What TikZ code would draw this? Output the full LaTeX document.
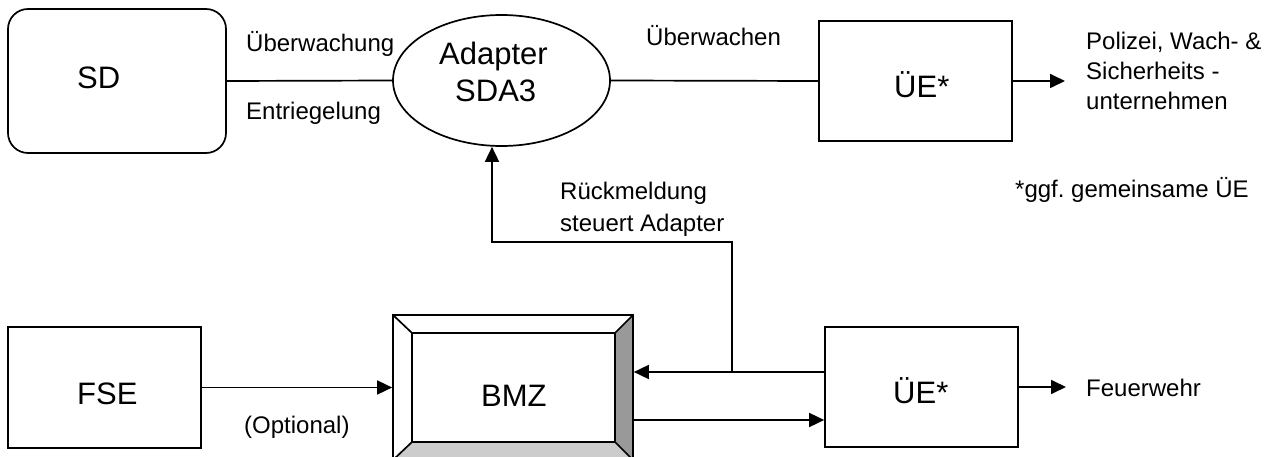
\documentclass[tikz,border=0pt]{standalone}
\usepackage{fontspec}
\setmainfont{Liberation Sans}
\usetikzlibrary{arrows.meta,shapes.geometric}
\frenchspacing
\tikzset{
  ln/.style={line width=1.7pt},
  arr/.style={ln,-{Triangle[length=15pt,width=14pt]}},
  boxn/.style={draw,ln,inner sep=0pt},
  big/.style={inner sep=0pt,anchor=base west,font=\fontsize{31}{36}\selectfont},
  sml/.style={inner sep=0pt,anchor=base west,font=\fontsize{24}{30}\selectfont},
}
\begin{document}
\begin{tikzpicture}[x=1pt,y=-1pt]
\useasboundingbox (0,0) rectangle (1270,457);
\clip (0,0) rectangle (1270,457);
% shapes
\node[boxn,rounded corners=20pt,minimum width=218pt,minimum height=144pt] (sd) at (117,81) {};
\node[boxn,ellipse,minimum width=217pt,minimum height=131pt] (ad) at (501.5,80.5) {};
\node[boxn,minimum width=193pt,minimum height=120pt] (ue1) at (915.5,81) {};
\node[boxn,minimum width=193pt,minimum height=121pt] (fse) at (104.5,387.5) {};
\node[boxn,minimum width=193pt,minimum height=120pt] (ue2) at (921.5,387) {};
% BMZ bevel box
\fill[black!20] (393,460) -- (412,442) -- (615,442) -- (633,460) -- cycle;
\fill[black!40] (633,315) -- (615,333) -- (615,442) -- (633,460) -- cycle;
\node[boxn,minimum width=240pt,minimum height=145pt] (bmz) at (513,387.5) {};
\draw[ln] (412,333) rectangle (615,442);
\draw[ln] (393,315) -- (412,333) (633,315) -- (615,333) (393,460) -- (412,442) (633,460) -- (615,442);
% texts
\node[big] (tsd) at (77,89) {SD};
\node[big] (tad1) at (439,65) {Adapter};
\node[big] (tad2) at (455,102) {SDA3};
\node[big] (tue1) at (894,98) {ÜE*};
\node[big] (tfse) at (77,404) {FSE};
\node[big] (tbmz) at (481,406) {BMZ};
\node[big] (tue2) at (893,403) {ÜE*};
\node[sml] (l1) at (246,52) {Überwachung};
\node[sml] (l2) at (246,120) {Entriegelung};
\node[sml] (l3) at (646,46) {Überwachen};
\node[sml] (l4) at (244,433) {(Optional)};
\node[sml] (l5) at (560,200) {Rückmeldung};
\node[sml] (l6) at (560,232) {steuert Adapter};
\node[sml] (p1) at (1086,50) {Polizei, Wach- \&};
\node[sml] (p2) at (1086,80) {Sicherheits -};
\node[sml] (p3) at (1086,110) {unternehmen};
\node[sml] (fw) at (1086,396) {Feuerwehr};
\node[sml] (gg) at (1015,198) {*ggf. gemeinsame ÜE};
% connectors
\coordinate (o1) at (1065,81);
\coordinate (o2) at (1066,387);
\coordinate (j) at (732,372);
\coordinate (c1) at (732,242);
\coordinate (c2) at (492,242);
\coordinate (b2) at (633,420);
\draw[ln] (sd.east) -- (ad.west);
\draw[ln] (ad.east) -- (ue1.west);
\draw[arr] (ue1.east) -- (o1);
\draw[arr] (ue2.east) -- (o2);
\draw[arr] (fse.east) -- (fse.east -| bmz.west);
\draw[arr] (ue2.west |- j) -- (bmz.east |- j);
\draw[arr] (j) -- (c1) -- (c2) -- (c2 |- ad.south);
\draw[arr] (b2) -- (ue2.west |- b2);
\end{tikzpicture}
\end{document}
